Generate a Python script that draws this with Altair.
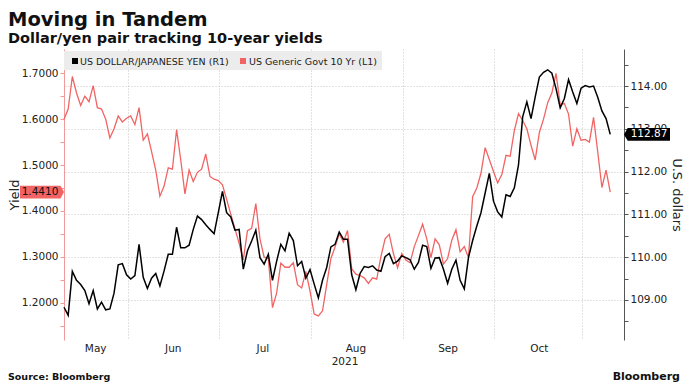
import altair as alt
import pandas as pd

# ---------------- data ----------------
usdjpy = [
    108.83, 108.64, 109.67, 109.46, 109.36, 109.22, 108.91, 109.22, 108.79, 108.95,
    108.77, 108.79, 109.16, 109.82, 109.85, 109.59, 109.49, 109.57, 110.30, 109.53,
    109.27, 109.51, 109.62, 109.33, 109.68, 110.07, 110.07, 110.70, 110.22, 110.22,
    110.28, 110.65, 110.96, 110.88, 110.76, 110.65, 110.55, 111.04, 111.54, 111.04,
    110.94, 110.63, 110.65, 109.72, 110.15, 110.38, 110.63, 109.99, 109.84, 110.07,
    109.46, 109.91, 110.30, 110.15, 110.56, 110.39, 109.80, 109.90, 109.51, 109.71,
    109.37, 109.05, 109.46, 109.76, 110.24, 110.30, 110.59, 110.42, 110.42, 109.59,
    109.24, 109.62, 109.78, 109.76, 109.80, 109.70, 109.67, 110.01, 110.09, 109.85,
    109.91, 110.03, 109.99, 109.94, 109.72, 109.88, 110.28, 110.25, 109.74, 109.98,
    109.99, 109.72, 109.39, 109.72, 109.93, 109.46, 109.26, 109.99, 110.39, 110.73,
    111.04, 111.50, 111.96, 111.31, 111.06, 110.94, 111.46, 111.42, 111.62, 112.16,
    113.28, 113.63, 113.24, 113.74, 114.21, 114.32, 114.38, 114.30, 113.94, 113.49,
    113.71, 114.15, 113.86, 113.59, 113.95, 114.01, 113.98, 114.00, 113.74, 113.42,
    113.24, 112.87,
]
us10y = [
    1.600, 1.622, 1.693, 1.657, 1.630, 1.650, 1.638, 1.673, 1.625, 1.622,
    1.600, 1.559, 1.579, 1.607, 1.594, 1.602, 1.607, 1.588, 1.625, 1.554,
    1.568, 1.529, 1.489, 1.432, 1.454, 1.494, 1.491, 1.577, 1.511, 1.437,
    1.489, 1.464, 1.484, 1.491, 1.524, 1.475, 1.469, 1.466, 1.457, 1.425,
    1.393, 1.361, 1.329, 1.293, 1.357, 1.362, 1.416, 1.339, 1.299, 1.296,
    1.189, 1.221, 1.286, 1.277, 1.277, 1.287, 1.239, 1.232, 1.268, 1.225,
    1.175, 1.171, 1.182, 1.239, 1.296, 1.321, 1.350, 1.332, 1.357, 1.274,
    1.262, 1.259, 1.254, 1.242, 1.254, 1.251, 1.300, 1.339, 1.349, 1.307,
    1.276, 1.307, 1.293, 1.287, 1.322, 1.346, 1.371, 1.339, 1.298, 1.339,
    1.326, 1.284, 1.296, 1.336, 1.359, 1.311, 1.322, 1.298, 1.431, 1.450,
    1.482, 1.538, 1.512, 1.486, 1.461, 1.479, 1.521, 1.519, 1.575, 1.612,
    1.597, 1.579, 1.543, 1.511, 1.571, 1.600, 1.636, 1.657, 1.700, 1.632,
    1.634, 1.611, 1.541, 1.579, 1.554, 1.556, 1.550, 1.604, 1.529, 1.451,
    1.489, 1.441,
]

months = ["May", "Jun", "Jul", "Aug", "Sep", "Oct"]
month_centers = [7.6, 26.2, 47.7, 70.0, 92.1, 114.0]     # trading-day index
month_starts = [15.33, 37.2, 59.3, 81.2, 103.2, 124.3]   # trading-day index
year_label = ["2021"]
year_center = [67.4]
yield_ticks = [1.15, 1.20, 1.25, 1.30, 1.35, 1.40, 1.45, 1.50, 1.55, 1.60, 1.65, 1.70]
usd_ticks = [108.5, 109.0, 109.5, 110.0, 110.5, 111.0, 111.5, 112.0, 112.5,
             113.0, 113.5, 114.0, 114.5]
legend_names = ["US DOLLAR/JAPANESE YEN (R1)", "US Generic Govt 10 Yr (L1)"]
title = "Moving in Tandem"
subtitle = "Dollar/yen pair tracking 10-year yields"
source = "Source: Bloomberg"
brand = "Bloomberg"

# ---------------- styling ----------------
W, H = 560, 291
RED = "#f26464"
RED_AXIS = "#f29a9a"
GRID = "#c4c4c4"
TXT = "#222222"
FONT = "DejaVu Sans"
TAG_L = "M -1 -0.29 L 0.84 -0.29 L 1 0 L 0.84 0.29 L -1 0.29 Z"
TAG_R = "M 1 -0.28 L -0.84 -0.28 L -1 0 L -0.84 0.28 L 1 0.28 Z"

df = pd.DataFrame({"day": list(range(len(usdjpy))), "usdjpy": usdjpy, "us10y": us10y})
last_day = len(usdjpy) - 1

xs = alt.Scale(domain=[0, 134.3], nice=False, zero=False)
xaxis = alt.Axis(values=month_starts, labels=False, ticks=False, domain=False,
                 grid=True, gridColor=GRID, gridDash=[1, 2], title=None)
xenc = alt.X("day:Q", scale=xs, axis=xaxis)

y_red = alt.Y(
    "us10y:Q",
    scale=alt.Scale(domain=[1.1184, 1.753], nice=False, zero=False),
    axis=alt.Axis(
        orient="left", values=yield_ticks, format=".4f",
        labelExpr="abs(datum.value*10 - round(datum.value*10)) < 0.01 ? datum.label : ''",
        title="Yield", titleFont=FONT, titleFontSize=13, titleFontWeight="normal",
        titleColor=TXT, titleX=-49.5, titleY=H / 2, titleAngle=270,
        titleAlign="center", titleBaseline="middle",
        labelFont=FONT, labelFontSize=10.5, labelColor=TXT, labelPadding=2,
        tickColor=RED_AXIS, tickSize=4, domainColor=RED_AXIS, grid=False,
    ),
)
y_blk = alt.Y(
    "usdjpy:Q",
    scale=alt.Scale(domain=[108.065, 114.866], nice=False, zero=False),
    axis=alt.Axis(
        orient="right", values=usd_ticks, format=".2f",
        labelExpr="datum.value % 1 == 0 ? datum.label : ''",
        title="U.S. dollars", titleFont=FONT, titleFontSize=13, titleFontWeight="normal",
        titleColor=TXT, titleX=52, titleY=H / 2, titleAngle=90,
        titleAlign="center", titleBaseline="middle",
        labelFont=FONT, labelFontSize=10.5, labelColor=TXT, labelPadding=2,
        tickColor="#555555", tickSize=4, domainColor="#555555",
        grid=True, gridColor=GRID, gridDash=[1, 2],
        gridOpacity={"condition": {"test": "datum.value % 1 != 0", "value": 0}, "value": 1},
    ),
)

base = alt.Chart(df)
last = base.transform_filter(alt.datum.day == last_day)

red_line = base.mark_line(color=RED, strokeWidth=1.3).encode(x=xenc, y=y_red)
red_tag = last.mark_point(shape=TAG_L, size=1936, filled=True, fill=RED, opacity=1,
                          strokeWidth=0).encode(x=alt.value(-22), y=y_red)
red_tag_txt = last.mark_text(font=FONT, fontSize=10.5, color="#111111",
                             align="center", baseline="middle").encode(
    x=alt.value(-24), y=y_red, text=alt.Text("us10y:Q", format=".4f"))
red_layer = alt.layer(red_line, red_tag, red_tag_txt)

blk_line = base.mark_line(color="#000000", strokeWidth=1.5).encode(x=xenc, y=y_blk)
blk_tag = last.mark_point(shape=TAG_R, size=2116, filled=True, fill="#000000", opacity=1,
                          strokeWidth=0).encode(x=alt.value(W + 23), y=y_blk)
blk_tag_txt = last.mark_text(font=FONT, fontSize=10.5, color="#ffffff",
                             align="center", baseline="middle").encode(
    x=alt.value(W + 25), y=y_blk, text=alt.Text("usdjpy:Q", format=".2f"))
blk_layer = alt.layer(blk_line, blk_tag, blk_tag_txt)

one = alt.Chart(pd.DataFrame({"k": [0]}))

# legend band
band = one.mark_rect(color="#ececec").encode(
    x=alt.value(0), x2=alt.value(318), y=alt.value(2), y2=alt.value(21))
sq_blk = one.mark_rect(color="#000000").encode(
    x=alt.value(8), x2=alt.value(14), y=alt.value(9), y2=alt.value(15))
sq_red = one.mark_rect(color=RED).encode(
    x=alt.value(176), x2=alt.value(182), y=alt.value(9), y2=alt.value(15))
leg_df = pd.DataFrame({"name": legend_names, "px": [16, 185]})
leg_txt = alt.Chart(leg_df).mark_text(font=FONT, fontSize=9.5, color=TXT, align="left",
                                      baseline="middle").encode(
    x=alt.X("px:Q", scale=None), y=alt.value(12.5), text="name:N")

# month labels
mdf = pd.DataFrame({"m": months, "pos": month_centers})
mtxt = alt.Chart(mdf).mark_text(font=FONT, fontSize=10.5, color=TXT, align="center",
                                baseline="middle").encode(
    x=alt.X("pos:Q", scale=xs, axis=xaxis), y=alt.value(H + 9), text="m:N")
ydf = pd.DataFrame({"m": year_label, "pos": year_center})
ytxt = alt.Chart(ydf).mark_text(font=FONT, fontSize=10.5, color=TXT, align="center",
                                baseline="middle").encode(
    x=alt.X("pos:Q", scale=xs, axis=xaxis), y=alt.value(H + 22), text="m:N")

# titles / footer
t1 = one.mark_text(text=title, font=FONT, fontSize=19.5, fontWeight="bold", color="#111111",
                   align="left", baseline="alphabetic").encode(x=alt.value(-56), y=alt.value(-23))
t2 = one.mark_text(text=subtitle, font=FONT, fontSize=14.5, fontWeight="bold", color="#111111",
                   align="left", baseline="alphabetic").encode(x=alt.value(-56), y=alt.value(-6.5))
foot = one.mark_text(text=source, font=FONT, fontSize=9.5, fontWeight="bold", color="#111111",
                     align="left", baseline="alphabetic").encode(x=alt.value(-56), y=alt.value(H + 40))
logo = one.mark_text(text=brand, font=FONT, fontSize=11, fontWeight="bold", color="#111111",
                     align="right", baseline="alphabetic").encode(x=alt.value(W + 56), y=alt.value(H + 40))

chart = alt.layer(
    red_layer, blk_layer, band, sq_blk, sq_red, leg_txt, mtxt, ytxt, t1, t2, foot, logo
).resolve_scale(y="independent").properties(
    width=W, height=H,
    autosize=alt.AutoSizeParams(type="none"),
    padding={"left": 56, "top": 41, "right": 60, "bottom": 42},
    background="white",
).configure_view(stroke=None)

chart.save("out.html", embed_options={"renderer": "svg", "actions": False})
